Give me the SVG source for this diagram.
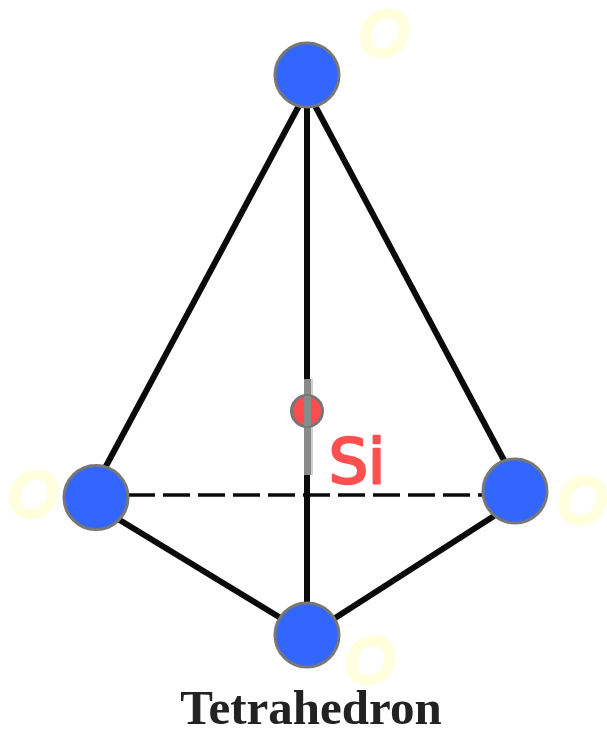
<svg xmlns="http://www.w3.org/2000/svg" width="607" height="730" viewBox="0 0 607 730">
<style>
.o{fill:#3366ff;stroke:#777777;stroke-width:3}
.b{stroke:#0a0a0a;stroke-width:6;fill:none}
.ox{font-family:"Liberation Sans",sans-serif;font-style:italic;font-size:63px;fill:none;stroke:#ffffdc;stroke-width:5;text-anchor:middle}
</style>
<rect width="607" height="730" fill="#ffffff"/>
<g id="connectors">
<line class="b" x1="302" y1="100" x2="105" y2="468"/>
<line class="b" x1="312" y1="100" x2="506" y2="464"/>
<line class="b" x1="307" y1="100" x2="307" y2="610"/>
<line class="b" x1="118" y1="519" x2="284" y2="620"/>
<line class="b" x1="494" y1="516" x2="332" y2="620"/>
<line x1="128" y1="495" x2="484" y2="495" stroke="#0a0a0a" stroke-width="3.5" stroke-dasharray="27 8"/>
<rect x="304" y="379" width="7" height="96" fill="#8a8a8a"/>
<rect x="311" y="379" width="2" height="96" fill="#d0d0d0"/>
</g>
<g id="node-top"><circle class="o" cx="307" cy="75" r="32"/><text class="ox" x="384" y="55">O</text></g>
<g id="node-left"><circle class="o" cx="96" cy="497.500" r="32"/><text class="ox" x="33" y="516">O</text></g>
<g id="node-right"><circle class="o" cx="515" cy="491" r="32"/><text class="ox" x="582" y="522">O</text></g>
<g id="node-bottom"><circle class="o" cx="307" cy="635" r="32"/><text class="ox" x="370" y="682">O</text></g>
<g id="node-si"><circle cx="307" cy="411" r="15.500" fill="#ff4d4d" stroke="#777777" stroke-width="3"/>
<rect x="304" y="396" width="7" height="30" fill="#8a8a8a"/>
<text x="357" y="483" font-family="'DejaVu Sans',sans-serif" font-size="62" fill="#ff5050" stroke="#ff5050" stroke-width="2.500" stroke-linejoin="round" text-anchor="middle">Si</text></g>
<text id="caption" x="311" y="724" font-family="'Liberation Serif',serif" font-weight="bold" font-size="49" fill="#222222" text-anchor="middle">Tetrahedron</text>
</svg>
